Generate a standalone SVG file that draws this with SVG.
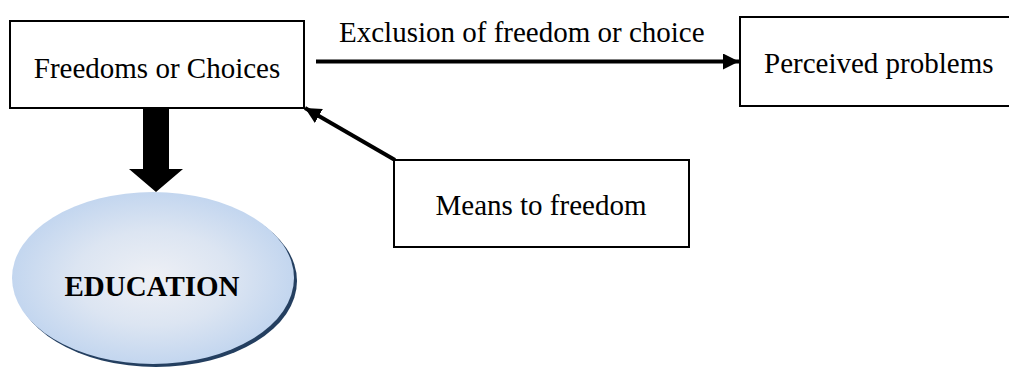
<svg xmlns="http://www.w3.org/2000/svg" width="1009" height="367" viewBox="0 0 1009 367">
  <style>
    .box { fill: #ffffff; stroke: #000000; stroke-width: 2; }
    .lbl { font-family: "Liberation Serif", "Times New Roman", serif; font-size: 29px; fill: #000000; }
    .conn { stroke: #000000; stroke-width: 4; fill: none; }
  </style>
  <defs>
    <radialGradient id="eduFill" cx="0.5" cy="0.5" r="0.5">
      <stop offset="0" stop-color="#EEF0F5"/>
      <stop offset="0.55" stop-color="#DCE5F2"/>
      <stop offset="1" stop-color="#C3D6EF"/>
    </radialGradient>
    <marker id="head" viewBox="0 0 16 16" refX="16" refY="8" markerWidth="16" markerHeight="16" markerUnits="userSpaceOnUse" orient="auto">
      <path d="M0,0 L16,8 L0,16 Z" fill="#000000"/>
    </marker>
  </defs>
  <rect width="1009" height="367" fill="#ffffff"/>

  <g id="connectors">
    <!-- exclusion arrow -->
    <line class="conn" x1="316" y1="61.5" x2="739" y2="61.5" marker-end="url(#head)"/>
    <text class="lbl" x="339" y="42">Exclusion of freedom or choice</text>
    <!-- means arrow -->
    <line class="conn" x1="395" y1="160" x2="305" y2="108" marker-end="url(#head)"/>
    <!-- block arrow down to education -->
    <path d="M143,108 L169,108 L169,169 L183,169 L156,192 L129,169 L143,169 Z" fill="#000000"/>
  </g>

  <g id="freedoms">
    <rect class="box" x="10" y="21" width="294" height="87"/>
    <text class="lbl" x="157" y="78" text-anchor="middle">Freedoms or Choices</text>
  </g>

  <g id="perceived">
    <rect class="box" x="740" y="17" width="280" height="89"/>
    <text class="lbl" x="764" y="73">Perceived problems</text>
  </g>

  <g id="means">
    <rect class="box" x="394" y="160" width="295" height="87"/>
    <text class="lbl" x="541" y="215" text-anchor="middle">Means to freedom</text>
  </g>

  <g id="education">
    <ellipse cx="156" cy="281" rx="141" ry="86" fill="#243F60"/>
    <ellipse cx="153" cy="278" rx="141" ry="86" fill="url(#eduFill)"/>
    <text class="lbl" x="152" y="296" text-anchor="middle" font-weight="bold">EDUCATION</text>
  </g>
</svg>
